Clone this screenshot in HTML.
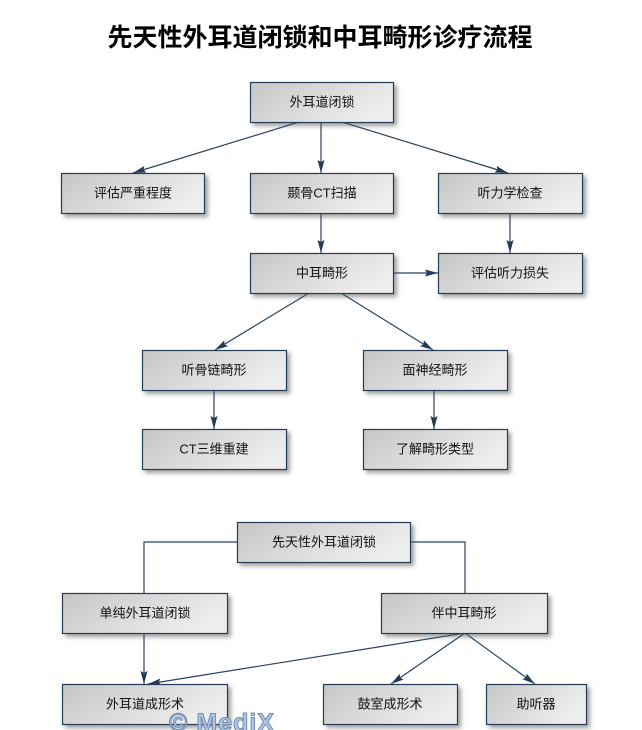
<!DOCTYPE html>
<html>
<head>
<meta charset="utf-8">
<style>
html,body{margin:0;padding:0;background:#fff;}
svg{display:block;}
.t{font-family:"Liberation Sans","Noto Sans CJK SC",sans-serif;font-size:13px;fill:#111;text-anchor:middle;dominant-baseline:central;}
.ttl{font-family:"Liberation Sans","Noto Sans CJK SC",sans-serif;font-size:25px;font-weight:bold;fill:#000;text-anchor:middle;}
.ln{stroke:#2b4260;stroke-width:1.2;fill:none;}
</style>
</head>
<body>
<svg width="642" height="730" viewBox="0 0 642 730" xmlns="http://www.w3.org/2000/svg">
<defs>
<linearGradient id="g" x1="0" y1="0" x2="1" y2="0.4">
<stop offset="0" stop-color="#c6c6c6"/>
<stop offset="1" stop-color="#ededed"/>
</linearGradient>
<filter id="sh" x="-10%" y="-20%" width="130%" height="160%">
<feDropShadow dx="3" dy="3" stdDeviation="2" flood-color="#555" flood-opacity="0.55"/>
</filter>
<marker id="ar" markerUnits="userSpaceOnUse" markerWidth="14" markerHeight="8" refX="13" refY="4" orient="auto">
<path d="M0,0.5 L13,4 L0,7.5 L2,4 Z" fill="#243b58"/>
</marker>
</defs>

<text class="ttl" x="320" y="46">先天性外耳道闭锁和中耳畸形诊疗流程</text>

<!-- connectors -->
<line class="ln" x1="299" y1="122" x2="133" y2="173" marker-end="url(#ar)"/>
<line class="ln" x1="321" y1="122" x2="321" y2="173" marker-end="url(#ar)"/>
<line class="ln" x1="342" y1="122" x2="508" y2="173" marker-end="url(#ar)"/>
<line class="ln" x1="321" y1="213" x2="321" y2="253" marker-end="url(#ar)"/>
<line class="ln" x1="510" y1="213" x2="510" y2="253" marker-end="url(#ar)"/>
<line class="ln" x1="393" y1="273" x2="438" y2="273" marker-end="url(#ar)"/>
<line class="ln" x1="309" y1="293" x2="215" y2="350" marker-end="url(#ar)"/>
<line class="ln" x1="341" y1="293" x2="433" y2="350" marker-end="url(#ar)"/>
<line class="ln" x1="214" y1="390" x2="214" y2="429" marker-end="url(#ar)"/>
<line class="ln" x1="434" y1="390" x2="434" y2="429" marker-end="url(#ar)"/>

<polyline class="ln" points="237,542 144,542 144,593"/>
<polyline class="ln" points="410,542 465,542 465,593"/>
<line class="ln" x1="144" y1="633" x2="144" y2="684" marker-end="url(#ar)"/>
<line class="ln" x1="465" y1="633" x2="148" y2="684" marker-end="url(#ar)"/>
<line class="ln" x1="465" y1="633" x2="391" y2="684" marker-end="url(#ar)"/>
<line class="ln" x1="465" y1="633" x2="535" y2="684" marker-end="url(#ar)"/>

<!-- boxes -->
<g fill="url(#g)" stroke="#253a55" stroke-width="1.2" filter="url(#sh)">
<rect x="250.5" y="82.5" width="143" height="40"/>
<rect x="61.5" y="173.5" width="143" height="40"/>
<rect x="250.5" y="173.5" width="143" height="40"/>
<rect x="438.5" y="173.5" width="144" height="40"/>
<rect x="250.5" y="253.5" width="143" height="40"/>
<rect x="438.5" y="253.5" width="144" height="40"/>
<rect x="142.5" y="350.5" width="144" height="40"/>
<rect x="363.5" y="350.5" width="144" height="40"/>
<rect x="142.5" y="429.5" width="144" height="40"/>
<rect x="363.5" y="429.5" width="144" height="40"/>
<rect x="237.5" y="522.5" width="173" height="40"/>
<rect x="62.5" y="593.5" width="165" height="40"/>
<rect x="381.5" y="593.5" width="166" height="40"/>
<rect x="62.5" y="684.5" width="165" height="40"/>
<rect x="323.5" y="684.5" width="134" height="40"/>
<rect x="486.5" y="684.5" width="100" height="40"/>
</g>

<!-- labels -->
<text class="t" x="322" y="102">外耳道闭锁</text>
<text class="t" x="133" y="193">评估严重程度</text>
<text class="t" x="322" y="193">颞骨CT扫描</text>
<text class="t" x="510" y="193">听力学检查</text>
<text class="t" x="322" y="273">中耳畸形</text>
<text class="t" x="510" y="273">评估听力损失</text>
<text class="t" x="214" y="370">听骨链畸形</text>
<text class="t" x="435" y="370">面神经畸形</text>
<text class="t" x="214" y="449">CT三维重建</text>
<text class="t" x="435" y="449">了解畸形类型</text>
<text class="t" x="324" y="542">先天性外耳道闭锁</text>
<text class="t" x="145" y="613">单纯外耳道闭锁</text>
<text class="t" x="464" y="613">伴中耳畸形</text>
<text class="t" x="145" y="704">外耳道成形术</text>
<text class="t" x="390" y="704">鼓室成形术</text>
<text class="t" x="536" y="704">助听器</text>

<!-- watermark -->
<text x="169" y="731" font-family="'Liberation Sans',sans-serif" font-size="25" font-weight="bold" fill="#b4c6de" stroke="#6e8db5" stroke-width="1" letter-spacing="1">© MediX</text>
</svg>
</body>
</html>
